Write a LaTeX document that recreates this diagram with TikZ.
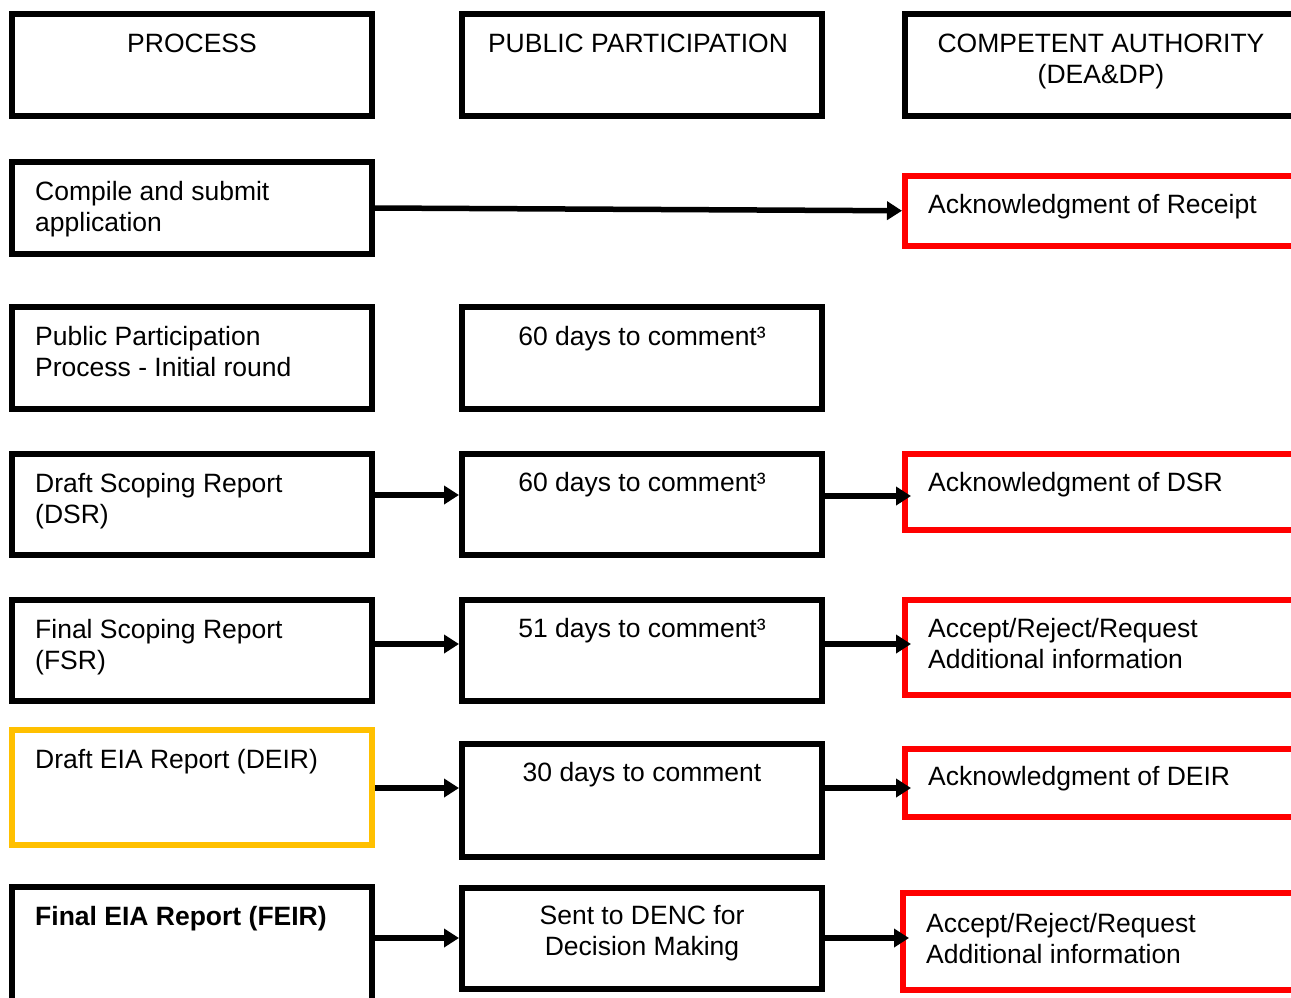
\documentclass[tikz,border=0pt]{standalone}
\usepackage{fontspec}
\setmainfont{Liberation Sans}
\usetikzlibrary{arrows.meta}
\definecolor{boxred}{RGB}{255,0,0}
\definecolor{boxgold}{RGB}{255,192,0}
\tikzset{
  box/.style={draw=black, line width=6pt, rectangle, inner sep=0pt, fill=none},
  redbox/.style={box, draw=boxred},
  goldbox/.style={box, draw=boxgold},
  ltxt/.style={anchor=base west, inner sep=0pt},
  ctxt/.style={anchor=base, inner sep=0pt},
  arr/.style={line width=5.5pt, -{Triangle[length=15pt,width=18pt]}},
  arrin/.style={arr, shorten >=-9pt},
}
\newcommand{\lines}[2]{\begin{tabular}[t]{@{}#1@{}}#2\end{tabular}}
\begin{document}
\begin{tikzpicture}[x=1pt, y=-1pt, font=\fontsize{26.5}{31}\selectfont]
\useasboundingbox (0,0) rectangle (1291,997);
\clip (0,0) rectangle (1291,997);
% header row
\node[box, minimum width=360pt, minimum height=102pt] (h1) at (192,65) {};
\node[box, minimum width=360pt, minimum height=102pt] (h2) at (642,65) {};
\node[box, minimum width=392pt, minimum height=102pt] (h3) at (1101,65) {};
\node[ctxt] (th1) at (192,52) {PROCESS};
\node[ctxt] (th2) at (638,52) {PUBLIC PARTICIPATION};
\node[ctxt] (th3) at (1101,52) {\lines{c}{COMPETENT AUTHORITY\\(DEA\&DP)}};
% row 1
\node[box, minimum width=360pt, minimum height=92pt] (r1a) at (192,208) {};
\node[redbox, minimum width=392pt, minimum height=70.5pt] (r1c) at (1101,210.75) {};
\node[ltxt] (t1a) at (35,200) {\lines{l}{Compile and submit\\application}};
\node[ltxt] (t1c) at (928,213) {Acknowledgment of Receipt};
\draw[arr] (r1a.east) -- (r1c.west);
% row 2
\node[box, minimum width=360pt, minimum height=102pt] (r2a) at (192,358) {};
\node[box, minimum width=360pt, minimum height=102pt] (r2b) at (642,358) {};
\node[ltxt] (t2a) at (35,345) {\lines{l}{Public Participation\\Process - Initial round}};
\node[ctxt] (t2b) at (642,345) {60 days to comment³};
% row 3
\node[box, minimum width=360pt, minimum height=101pt] (r3a) at (192,504.5) {};
\node[box, minimum width=360pt, minimum height=101pt] (r3b) at (642,504.5) {};
\node[redbox, minimum width=392pt, minimum height=75.5pt] (r3c) at (1101,491.75) {};
\node[ltxt] (t3a) at (35,492) {\lines{l}{Draft Scoping Report\\(DSR)}};
\node[ctxt] (t3b) at (642,491) {60 days to comment³};
\node[ltxt] (t3c) at (928,491) {Acknowledgment of DSR};
\draw[arr] (r3a.east |- 0,495) -- (r3b.west |- 0,495);
\draw[arrin] (r3b.east |- 0,496) -- (r3c.west |- 0,496);
% row 4
\node[box, minimum width=360pt, minimum height=101pt] (r4a) at (192,650.5) {};
\node[box, minimum width=360pt, minimum height=101pt] (r4b) at (642,650.5) {};
\node[redbox, minimum width=392pt, minimum height=95pt] (r4c) at (1101,647) {};
\node[ltxt] (t4a) at (35,638) {\lines{l}{Final Scoping Report\\(FSR)}};
\node[ctxt] (t4b) at (642,637) {51 days to comment³};
\node[ltxt] (t4c) at (928,637) {\lines{l}{Accept/Reject/Request\\Additional information}};
\draw[arr] (r4a.east |- 0,644) -- (r4b.west |- 0,644);
\draw[arrin] (r4b.east |- 0,644) -- (r4c.west |- 0,644);
% row 5
\node[goldbox, minimum width=360pt, minimum height=115pt] (r5a) at (192,787.5) {};
\node[box, minimum width=360pt, minimum height=113pt] (r5b) at (642,800.5) {};
\node[redbox, minimum width=392pt, minimum height=68pt] (r5c) at (1101,783) {};
\node[ltxt] (t5a) at (35,768) {Draft EIA Report (DEIR)};
\node[ctxt] (t5b) at (642,781) {30 days to comment};
\node[ltxt] (t5c) at (928,785) {Acknowledgment of DEIR};
\draw[arr] (r5a.east |- 0,788) -- (r5b.west |- 0,788);
\draw[arrin] (r5b.east |- 0,788) -- (r5c.west |- 0,788);
% row 6
\node[box, minimum width=360pt, minimum height=123pt] (r6a) at (192,948.5) {};
\node[box, minimum width=360pt, minimum height=101pt] (r6b) at (642,938.5) {};
\node[redbox, minimum width=394pt, minimum height=97pt] (r6c) at (1100,941.5) {};
\node[ltxt] (t6a) at (35,925) {\bfseries Final EIA Report (FEIR)};
\node[ctxt] (t6b) at (642,924) {\lines{c}{Sent to DENC for\\Decision Making}};
\node[ltxt] (t6c) at (926,932) {\lines{l}{Accept/Reject/Request\\Additional information}};
\draw[arr] (r6a.east |- 0,938) -- (r6b.west |- 0,938);
\draw[arrin] (r6b.east |- 0,938) -- (r6c.west |- 0,938);
\end{tikzpicture}
\end{document}
